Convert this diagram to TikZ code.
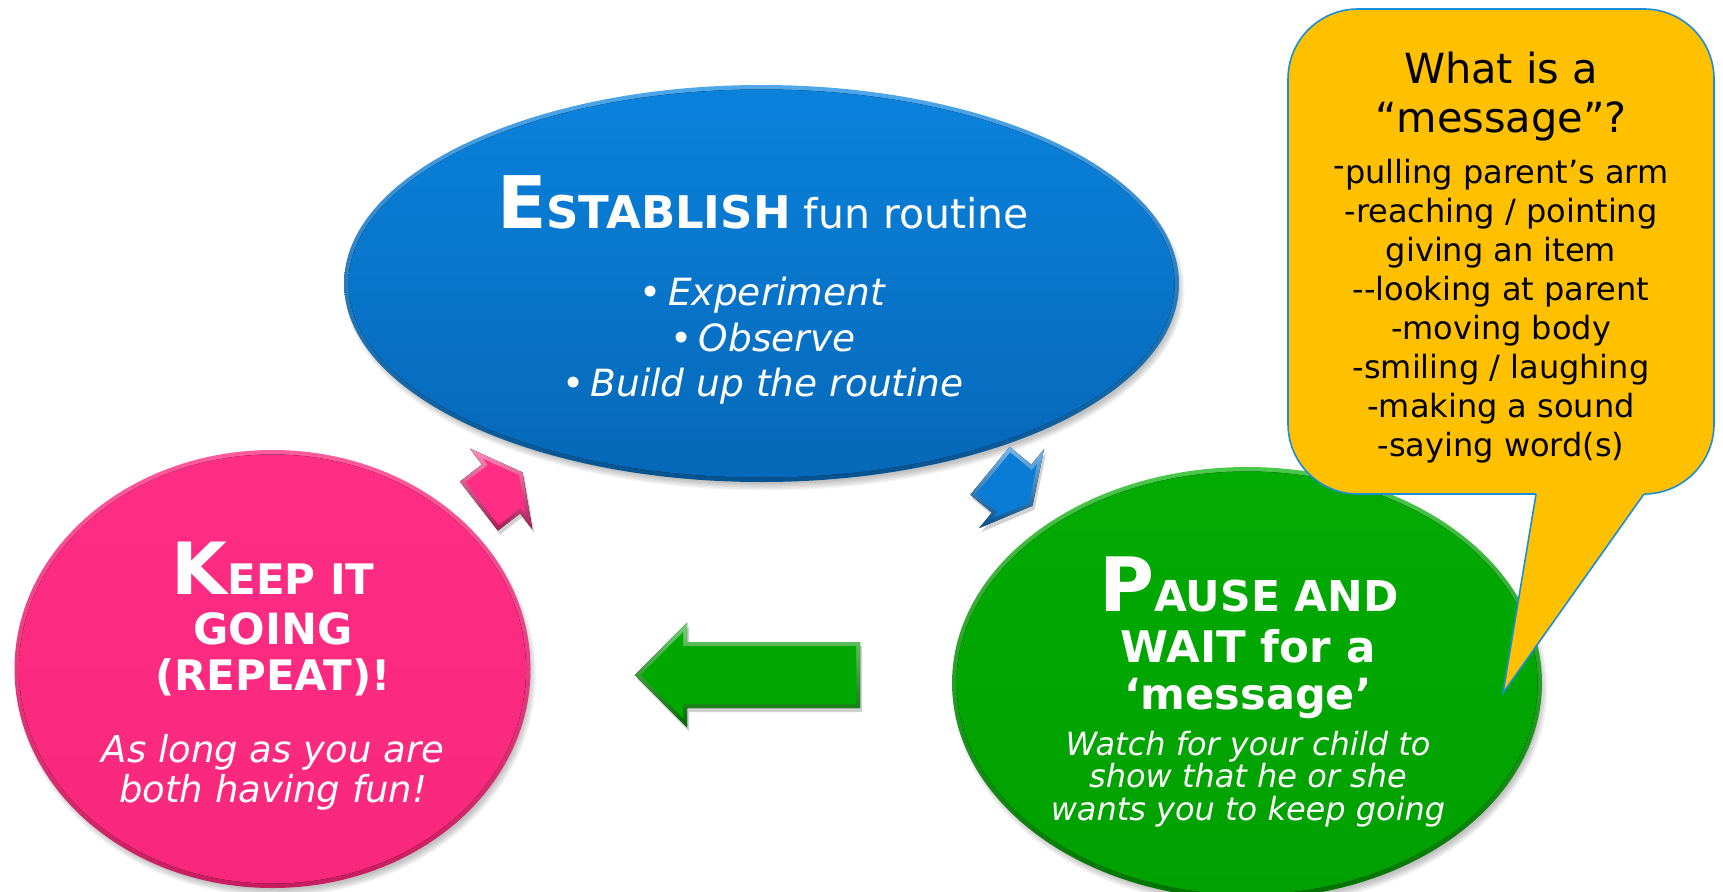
\documentclass[tikz,border=0pt]{standalone}
\usepackage{fontspec}
\setmainfont{DejaVu Sans}
\usetikzlibrary{shapes.geometric}

\definecolor{blueface}{HTML}{0A82DC}
\definecolor{bluelow}{HTML}{0668B8}
\definecolor{bluerimtop}{HTML}{4FA8EC}
\definecolor{bluerimlow}{HTML}{04528F}
\definecolor{pinkface}{HTML}{FF2D84}
\definecolor{pinklow}{HTML}{F8287C}
\definecolor{pinkrimtop}{HTML}{FF5C9E}
\definecolor{pinkrimlow}{HTML}{C81C60}
\definecolor{greenface}{HTML}{02AB02}
\definecolor{greenlow}{HTML}{00A000}
\definecolor{greenrimtop}{HTML}{4CC94C}
\definecolor{greenrimlow}{HTML}{007200}
\definecolor{calloutfill}{HTML}{FFC000}
\definecolor{calloutedge}{HTML}{1A8ED8}
\definecolor{arrowpink}{HTML}{FF2D84}
\definecolor{arrowblue}{HTML}{0A7CD6}
\definecolor{arrowgreen}{HTML}{00A800}

\newcommand\fsz[1]{\fontsize{#1}{#1}\selectfont}

% bevelled bubble: name, cx, cy, rx, ry, rim top, rim bottom, face top, face bottom
\newcommand\bubble[9]{%
  \foreach \k in {0,...,5}
    \fill[black, opacity=0.045] (#2+3,#3+6) ellipse [x radius=#4pt-4pt+\k pt*1.3, y radius=#5pt-4pt+\k pt*1.3];
  \node[ellipse, draw=none, minimum width={2*#4pt}, minimum height={2*#5pt},
        top color=#6, bottom color=#7] (#1) at (#2,#3) {};
  \fill[top color=#8, bottom color=#9] (#1.center) ellipse [x radius=#4pt-4.5pt, y radius=#5pt-4.5pt];
}

% bevelled block arrow: tail x, tail y, angle, shaft length, shaft half width,
% head length, head half width, colour
\newcommand\blockarrow[8]{%
  \pgfmathsetmacro\aLs{#4}%
  \pgfmathsetmacro\aL{#4+#6}%
  \pgfmathsetmacro\aK{#7/#6}%
  \pgfmathsetmacro\aS{sqrt(1+\aK*\aK)}%
  \def\aD{4}%
  \pgfmathsetmacro\aBx{\aLs+\aD}%
  \pgfmathsetmacro\aBy{#7-\aD*\aK-\aD*\aS}%
  \pgfmathsetmacro\aTx{\aL-\aD*\aS/\aK}%
  \pgfmathsetmacro\aSw{#5-\aD}%
  \begin{scope}[shift={(#1+2,#2+4)}, rotate=#3]
    \fill[black, opacity=0.18] (0,-#5) -- (\aLs,-#5) -- (\aLs,-#7) -- (\aL,0)
      -- (\aLs,#7) -- (\aLs,#5) -- (0,#5) -- cycle;
  \end{scope}
  \begin{scope}[shift={(#1,#2)}, rotate=#3]
    \fill[top color=#8!55!white, bottom color=#8!65!black] (0,-#5) -- (\aLs,-#5)
      -- (\aLs,-#7) -- (\aL,0) -- (\aLs,#7) -- (\aLs,#5) -- (0,#5) -- cycle;
    \fill[#8] (\aD,-\aSw) -- (\aBx,-\aSw) -- (\aBx,-\aBy) -- (\aTx,0)
      -- (\aBx,\aBy) -- (\aBx,\aSw) -- (\aD,\aSw) -- cycle;
  \end{scope}}

\tikzset{
  every node/.style={inner sep=0pt, outer sep=0pt},
  whiteline/.style={anchor=base, text=white},
  headline/.style={whiteline, font=\bfseries},
  blackline/.style={anchor=base, text=black},
}

\begin{document}
\begin{tikzpicture}[x=1pt, y=-1pt]
\useasboundingbox (0,0) rectangle (1723,891);

% the three steps
\bubble{establish}{761.5}{283.5}{417.5}{198.5}{bluerimtop}{bluerimlow}{blueface}{bluelow}
\bubble{keep}{272.5}{669}{258}{219}{pinkrimtop}{pinkrimlow}{pinkface}{pinklow}
\bubble{pause}{1247}{683}{295}{216}{greenrimtop}{greenrimlow}{greenface}{greenlow}

% arrows between the steps
\blockarrow{479}{506}{37.7}{28}{31}{27}{51}{arrowpink}
\blockarrow{990}{470.8}{-39.4}{28}{31}{27}{51}{arrowblue}
\blockarrow{860}{675}{180}{173}{33}{52}{52.5}{arrowgreen}

% Establish
\node[whiteline] (estTitle) at (763,228.6)
  {{\bfseries\fsz{72.5}E\fsz{45}STABLISH}\fsz{41} fun routine};
\foreach \t [count=\i from 0] in {Experiment, Observe, Build up the routine}
  \node[whiteline, font=\fsz{37.5}] (estItem\i) at (763,{305.5+45.6*\i}) {•\,\textit{\t}};

% Keep it going
\node[headline] (keepT1) at (273,594) {\fsz{72}K\fsz{42}EEP IT};
\node[headline] (keepT2) at (273,644) {\fsz{43}GOING};
\node[headline] (keepT3) at (273,690) {\fsz{42}(REPEAT)!};
\node[whiteline, font=\itshape\fsz{37}] (keepB1) at (273,762.6) {As long as you are};
\node[whiteline, font=\itshape\fsz{37}] (keepB2) at (273,802) {both having fun!};

% Pause and wait
\node[headline] (pauseT1) at (1249,611) {\fsz{75}P\fsz{42.5}AUSE AND};
\node[headline] (pauseT2) at (1248,662.6) {\fsz{43.5}WAIT for a};
\node[headline] (pauseT3) at (1248,709) {\fsz{43}‘message’};
\foreach \t [count=\i from 0] in {Watch for your child to, show that he or she, wants you to keep going}
  \node[whiteline, font=\itshape\fsz{32}] (pauseB\i) at (1248,{755+32.5*\i}) {\t};

% callout
\fill[calloutfill, draw=calloutedge, line width=1.6pt, rounded corners=70pt]
  (1288,9) rectangle (1714,494);
\fill[calloutfill] (1536.7,490) -- (1646.8,490) -- (1503,693) -- cycle;
\draw[calloutedge, line width=1.6pt, line join=miter] (1536,494) -- (1503,693) -- (1644,494);

\node[blackline, font=\fsz{41.5}] (msgT1) at (1501,83) {What is a};
\node[blackline, font=\fsz{41.5}] (msgT2) at (1501,132) {“message”?};
\foreach \t [count=\i from 0] in {{\raisebox{7pt}{-}pulling parent’s arm}, -reaching / pointing,
    giving an item, -{}-looking at parent, -moving body, -smiling / laughing,
    -making a sound, -saying word(s)}
  \node[blackline, font=\fsz{32}] (msgItem\i) at (1501,{183+39*\i}) {\t};
\end{tikzpicture}
\end{document}
